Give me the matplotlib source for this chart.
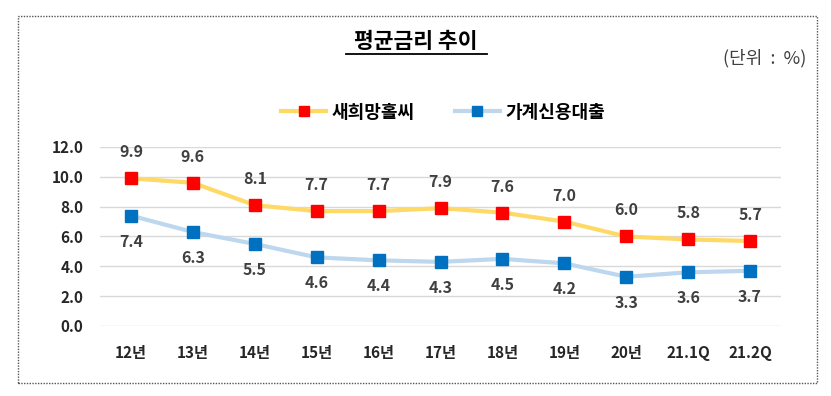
import matplotlib.pyplot as plt
from matplotlib.patches import Rectangle

plt.rcParams['font.family'] = ['Noto Sans CJK KR', 'DejaVu Sans']

categories = ['12년', '13년', '14년', '15년', '16년', '17년', '18년', '19년',
              '20년', '21.1Q', '21.2Q']
hope = [9.9, 9.6, 8.1, 7.7, 7.7, 7.9, 7.6, 7.0, 6.0, 5.8, 5.7]
credit = [7.4, 6.3, 5.5, 4.6, 4.4, 4.3, 4.5, 4.2, 3.3, 3.6, 3.7]

W, H = 831, 396
fig = plt.figure(figsize=(W / 100, H / 100), dpi=100)

# dotted outer frame
fig.patches.append(Rectangle((18 / W, 1 - 383 / H), (817 - 18) / W, (383 - 16) / H,
                             transform=fig.transFigure, fill=False,
                             edgecolor='#555555', linestyle=(0, (1, 1)), linewidth=1))

ax = fig.add_axes([100 / W, 1 - 326 / H, (781 - 100) / W, (326 - 147) / H])
x = range(len(categories))

ax.plot(x, hope, color='#FFD966', linewidth=3, marker='s', markersize=9,
        markerfacecolor='#FF0000', markeredgecolor='#FF0000', label='새희망홀씨',
        zorder=3)
ax.plot(x, credit, color='#BDD7EE', linewidth=3, marker='s', markersize=9,
        markerfacecolor='#0070C0', markeredgecolor='#0070C0', label='가계신용대출',
        zorder=3)

for i, v in enumerate(hope):
    ax.annotate(f'{v:.1f}', (i, v), xytext=(0, 13), textcoords='offset points',
                ha='center', va='bottom', fontsize=11.5, fontweight='bold',
                color='#404040')
for i, v in enumerate(credit):
    ax.annotate(f'{v:.1f}', (i, v), xytext=(0, -13), textcoords='offset points',
                ha='center', va='top', fontsize=11.5, fontweight='bold',
                color='#404040')

ax.set_xlim(-0.5, len(categories) - 0.5)
ax.set_ylim(0, 12)
ax.set_yticks([0, 2, 4, 6, 8, 10, 12])
ax.set_yticklabels([f'{t:.1f}' for t in [0, 2, 4, 6, 8, 10, 12]])
ax.set_xticks(list(x))
ax.set_xticklabels(categories)
ax.tick_params(length=0, labelsize=11, labelcolor='#262626', pad=12)
ax.tick_params(axis='x', pad=14)
for lab in ax.get_xticklabels() + ax.get_yticklabels():
    lab.set_fontweight('bold')
ax.grid(axis='y', color='#D9D9D9', linewidth=1)
ax.set_axisbelow(True)
for s in ax.spines.values():
    s.set_visible(False)

# title with underline
fig.text(416 / W, 1 - 41 / H, '평균금리 추이', ha='center', va='center',
         fontsize=15.5, fontweight='bold', color='black')
fig.add_artist(plt.Line2D([346 / W, 487 / W], [1 - 54 / H, 1 - 54 / H],
                          color='black', linewidth=1.3))
fig.text(806 / W, 1 - 58 / H, '(단위  :  %)', ha='right', va='center',
         fontsize=13, color='#404040')

fig.legend(loc='center', bbox_to_anchor=(443 / W, 1 - 112 / H), ncol=2,
           frameon=False, prop={'size': 13, 'weight': 'bold'}, handlelength=2.5,
           columnspacing=2.2, handletextpad=0.3, markerscale=0.85)

fig.savefig('out.png', dpi=100)
